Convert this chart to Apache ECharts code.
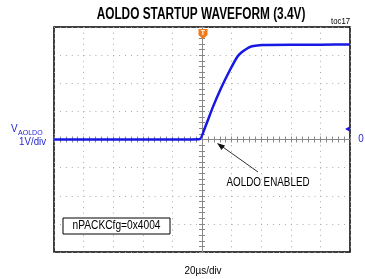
<!DOCTYPE html>
<html>
<head>
<meta charset="utf-8">
<script src="https://cdn.jsdelivr.net/npm/echarts@6/dist/echarts.min.js"></script>
<style>
html,body{margin:0;padding:0;background:#fff;}
#scope{width:365px;height:279px;}
</style>
</head>
<body>
<div id="scope"></div>
<script>
// time in us (20us/div, trigger at 0), AOLDO in V (1V/div, ground at centre)
var timeUs = [-100, -60, -20, -1.4, 2, 7.4, 13, 18.9, 24, 27, 30, 32.4, 36, 41, 60, 80, 100];
var aoldoV = [0, 0, 0, 0.02, 0.42, 1.16, 1.84, 2.47, 2.95, 3.11, 3.22, 3.29, 3.33, 3.36, 3.37, 3.37, 3.38];
var timeRange = [-100, 100, 20];
var voltRange = [-4, 4, 1];

var blue = '#1818e4';
var labelBlue = '#2626d0';
var font = '"Liberation Sans", Arial, sans-serif';

var pts = timeUs.map(function (t, i) { return [t, aoldoV[i]]; });

function centreAxis(pos, idx) {
    return {
        type: 'value',
        position: pos,
        min: idx === 'x' ? timeRange[0] : voltRange[0],
        max: idx === 'x' ? timeRange[1] : voltRange[1],
        interval: idx === 'x' ? timeRange[2] : voltRange[2],
        axisLine: { show: true, onZero: true, onZeroAxisIndex: 0, lineStyle: { color: '#888', width: 1 } },
        axisTick: { show: true, inside: true, length: 3, lineStyle: { color: '#888' } },
        minorTick: { show: true, splitNumber: 5, length: 3, lineStyle: { color: '#888' } },
        axisLabel: { show: false },
        splitLine: { show: false }
    };
}

var xMain = centreAxis('bottom', 'x');
xMain.splitLine = { show: true, lineStyle: { color: '#aaa', width: 1, type: [1, 4.625] } };
var yMain = centreAxis('left', 'y');
yMain.splitLine = { show: true, lineStyle: { color: '#aaa', width: 1, type: [1, 4.92] } };

// narrow text: the original uses a condensed face, so squeeze Liberation Sans
function label(txt, x, y, size, align, sx, color, extra) {
    return {
        type: 'text', x: x, y: y, scaleX: sx, z: 11,
        style: {
            text: txt, x: 0, y: 0, textAlign: align, textVerticalAlign: 'middle',
            font: (extra || '') + size + 'px ' + font, fill: color || '#000'
        }
    };
}

var myChart = echarts.init(document.getElementById('scope'));
myChart.setOption({
    animation: false,
    backgroundColor: '#fff',
    grid: {
        left: 54, right: 15, top: 27, bottom: 27,
        show: true, borderColor: '#000', borderWidth: 1.5, backgroundColor: '#fff'
    },
    xAxis: [xMain, centreAxis('top', 'x')],
    yAxis: [yMain, centreAxis('right', 'y')],
    series: [{
        type: 'line',
        xAxisIndex: 0,
        yAxisIndex: 0,
        data: pts,
        showSymbol: false,
        smooth: 0.15,
        lineStyle: { color: blue, width: 2.5 },
        z: 5
    }],
    graphic: [
        label('AOLDO STARTUP WAVEFORM (3.4V)', 201, 15, 16, 'center', 0.74, '#000', 'bold '),
        label('toc17', 350, 22, 9, 'right', 0.86),
        label('V', 11, 128.5, 11, 'left', 0.9, labelBlue),
        label('AOLDO', 18, 133, 8, 'left', 0.88, labelBlue),
        label('1V/div', 46, 141.5, 11, 'right', 0.88, labelBlue),
        label('0', 361, 139, 11, 'center', 0.9, labelBlue),
        { type: 'polygon', shape: { points: [[345, 129], [349.5, 126.5], [349.5, 131.5]] }, style: { fill: blue }, z: 10 },
        { type: 'polygon', shape: { points: [[198.5, 29], [207.5, 29], [207.5, 35], [203, 39], [198.5, 35]] }, style: { fill: '#f07a1a' }, z: 10 },
        label('T', 203, 33, 7, 'center', 1, '#fff', 'bold '),
        { type: 'line', shape: { x1: 258, y1: 172, x2: 220, y2: 145 }, style: { stroke: '#333', lineWidth: 1 }, z: 10 },
        { type: 'polygon', shape: { points: [[217, 143], [225, 145.5], [221.5, 150]] }, style: { fill: '#111' }, z: 10 },
        label('AOLDO ENABLED', 268, 183, 12, 'center', 0.82),
        { type: 'rect', shape: { x: 63, y: 218, width: 107, height: 16 }, style: { fill: '#fff', stroke: '#000', lineWidth: 1 }, z: 10 },
        label('nPACKCfg=0x4004', 116.5, 226, 12, 'center', 0.85),
        label('20\u00b5s/div', 203, 271, 11, 'center', 0.9)
    ]
});
</script>
</body>
</html>
